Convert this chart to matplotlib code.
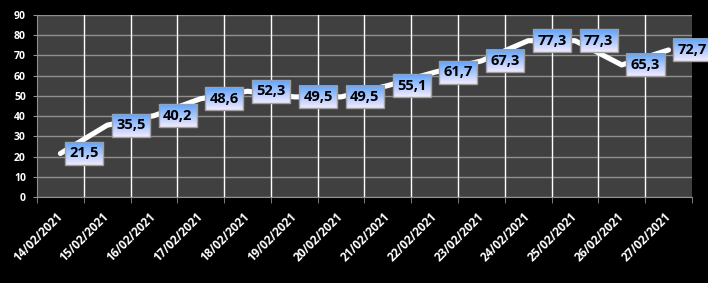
import matplotlib.pyplot as plt
import numpy as np
from matplotlib.ticker import FixedLocator

dates = ['14/02/2021', '15/02/2021', '16/02/2021', '17/02/2021', '18/02/2021',
         '19/02/2021', '20/02/2021', '21/02/2021', '22/02/2021', '23/02/2021',
         '24/02/2021', '25/02/2021', '26/02/2021', '27/02/2021']
values = [21.5, 35.5, 40.2, 48.6, 52.3, 49.5, 49.5, 55.1, 61.7, 67.3, 77.3, 77.3, 65.3, 72.7]

fig = plt.figure(figsize=(7.08, 2.83), dpi=100, facecolor='black')
ax = fig.add_axes([0.0523, 0.304, 0.925, 0.643])
ax.set_facecolor('#404040')

x = np.arange(len(dates))
ax.plot(x, values, color='white', lw=3.7, solid_capstyle='round',
        solid_joinstyle='round', zorder=3)

ax.set_xlim(-0.5, len(dates) - 0.5)
ax.set_ylim(0, 90)
ax.set_yticks(range(0, 91, 10))

# labels at category centres, grid and tick marks on the boundaries
ax.set_xticks(x)
ax.set_xticklabels(dates, rotation=45, ha='right', va='center', rotation_mode='anchor',
                   color='white', fontsize=8.5, fontweight='bold', family='Open Sans')
ax.tick_params(axis='x', length=0, pad=13)
ax.xaxis.set_minor_locator(FixedLocator(np.arange(-0.5, len(dates), 1)))
ax.tick_params(axis='x', which='minor', length=4, color='#909090', direction='out')
for b in np.arange(0.5, len(dates) - 0.5, 1):
    ax.axvline(b, color='white', lw=1, zorder=1)
ax.yaxis.grid(True, color='#909090', lw=1, zorder=1)
ax.set_axisbelow(True)
ax.tick_params(axis='y', length=3, color='#909090', labelcolor='white', labelsize=7.5, pad=5)
for lab in ax.get_yticklabels():
    lab.set_fontweight('bold')
    lab.set_family('Open Sans')

for s in ['top', 'right']:
    ax.spines[s].set_visible(False)
for s in ['left', 'bottom']:
    ax.spines[s].set_color('#909090')

# data labels with gradient boxes
texts = []
for xi, v in zip(x, values):
    t = ax.annotate(f'{v:.1f}'.replace('.', ','), (xi, v), xytext=(6.5, 0),
                    textcoords='offset points', ha='left', va='center',
                    fontsize=10.5, fontweight='bold', family='Open Sans', color='black',
                    zorder=6, annotation_clip=False,
                    bbox=dict(boxstyle='square,pad=0.3', fc='none', ec='#a0a0a0', lw=1))
    texts.append(t)

fig.canvas.draw()
grad = np.linspace(0, 1, 64).reshape(-1, 1)
top = np.array([0.36, 0.64, 1.0])
bot = np.array([0.95, 0.92, 1.0])
img = top + grad[..., None] * (bot - top)
inv = ax.transData.inverted()
for t in texts:
    bb = t.get_bbox_patch().get_window_extent()
    (x0, y0), (x1, y1) = inv.transform([[bb.x0, bb.y0], [bb.x1, bb.y1]])
    ax.imshow(img, extent=[x0, x1, y0, y1], aspect='auto', zorder=5, clip_on=False,
              interpolation='bilinear', origin='upper')
ax.set_xlim(-0.5, len(dates) - 0.5)
ax.set_ylim(0, 90)

fig.savefig('out.png', dpi=100, facecolor='black')
